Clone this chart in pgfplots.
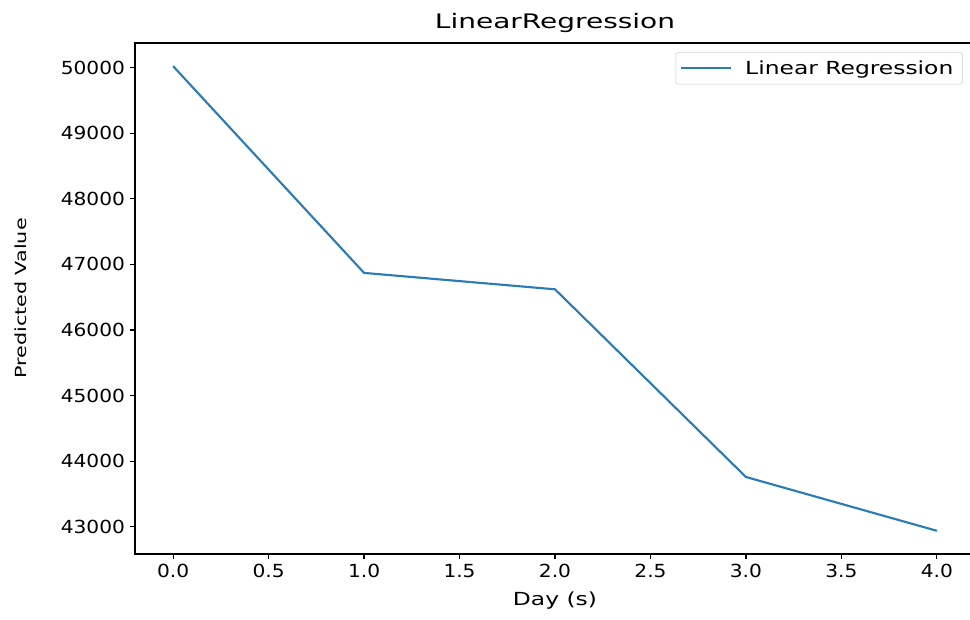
\documentclass[border=0pt]{standalone}
\usepackage{fontspec}
\setmainfont{DejaVu Sans}
\usepackage{graphicx}
\usepackage{pgfplots}
\pgfplotsset{compat=1.18}
\definecolor{mplblue}{HTML}{2B7BB5}
\newcommand\sx[2]{\scalebox{#1}[1]{#2}}
\newcommand\tk[1]{\sx{1.12}{#1}}
\begin{document}
\begin{tikzpicture}
\begin{axis}[
  scale only axis,
  width=630pt, height=383.25pt,
  xmin=-0.2, xmax=4.2,
  ymin=42586, ymax=50374,
  scaled y ticks=false,
  scaled x ticks=false,
  xtick={0,0.5,...,4},
  xticklabels={\tk{0.0},\tk{0.5},\tk{1.0},\tk{1.5},\tk{2.0},\tk{2.5},\tk{3.0},\tk{3.5},\tk{4.0}},
  ytick={43000,44000,...,50000},
  yticklabels={\tk{43000},\tk{44000},\tk{45000},\tk{46000},\tk{47000},\tk{48000},\tk{49000},\tk{50000}},
  tick label style={font=\fontsize{13.5}{16}\selectfont},
  label style={font=\fontsize{13.5}{16}\selectfont},
  title style={font=\fontsize{15}{18}\selectfont, yshift=-2pt},
  title={\sx{1.4}{LinearRegression}},
  xlabel={\sx{1.3}{Day (s)}},
  xlabel style={yshift=-4pt},
  ylabel={\scalebox{1.15}[0.85]{Predicted Value}},
  ylabel style={at={(rel axis cs:-0.1357,0.5)}, anchor=center},
  tick align=outside,
  major tick length=4pt,
  xtick pos=bottom, ytick pos=left,
  axis line style={line width=0.9pt},
  tick style={line width=0.9pt, black},
  legend style={at={(rel axis cs:0.9857,0.982)}, anchor=north east,
    font=\fontsize{13.5}{16}\selectfont, draw=gray!40, rounded corners=2pt,
    inner xsep=3pt, inner ysep=4pt,
    nodes={inner xsep=4pt}},
  legend cell align=left,
  legend image code/.code={\draw[#1] (0pt,0pt) -- (37.5pt,0pt);},
]
\addplot[mplblue, line width=1.6pt] coordinates {
  (0,50020) (1,46870) (2,46620) (3,43760) (4,42940)
};
\addlegendentry{\hspace{6pt}\sx{1.3}{Linear Regression}\hspace{2pt}}
\end{axis}
\pgfresetboundingbox
\useasboundingbox ([shift={(-101.25pt,-48.75pt)}]current axis.south west) rectangle ([shift={(626.25pt,415.5pt)}]current axis.south west);
\end{tikzpicture}
\end{document}
